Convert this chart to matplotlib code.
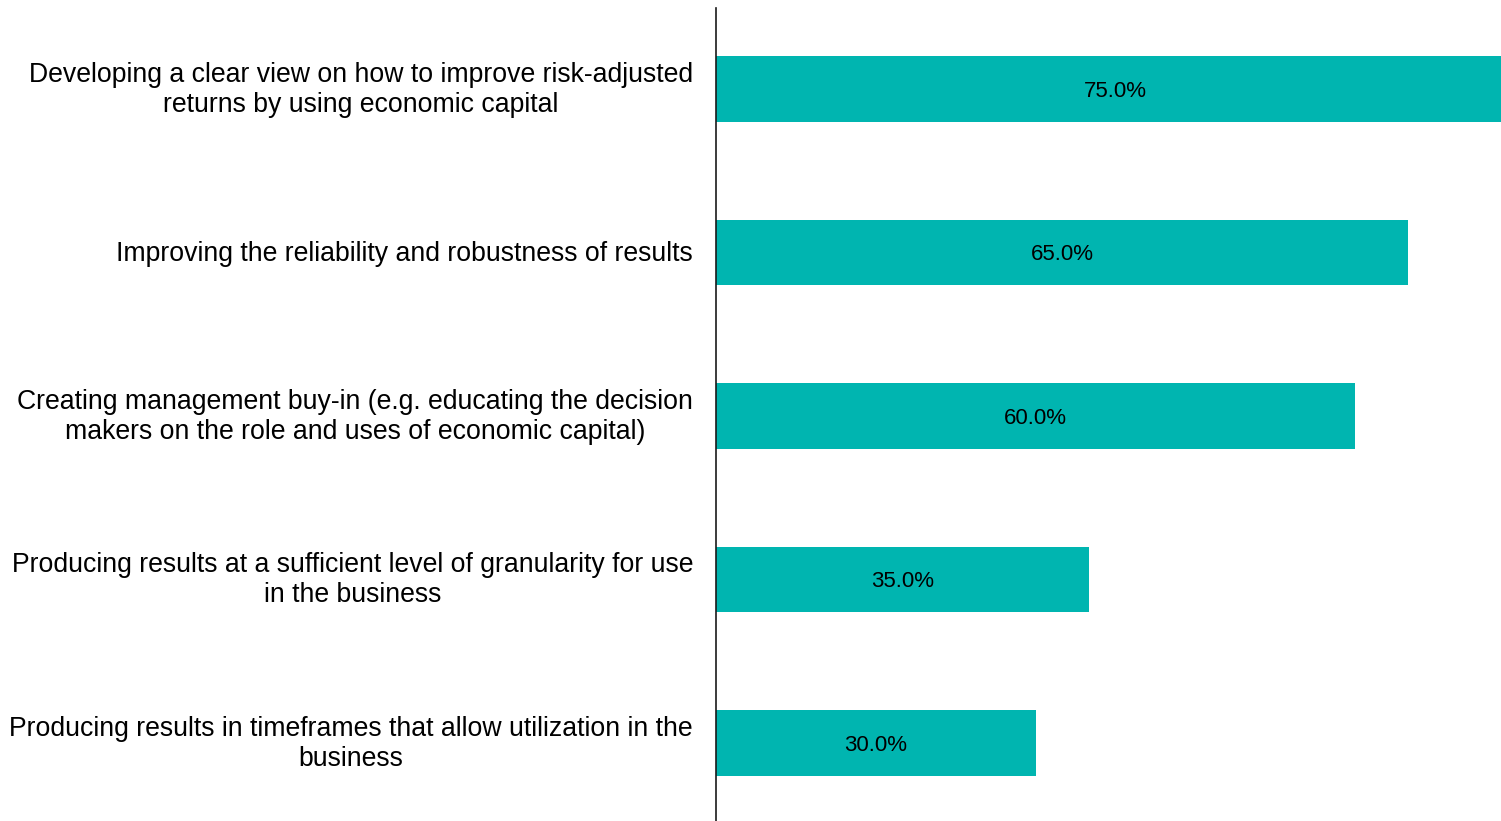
import numpy as np
import matplotlib.pyplot as plt

plt.rcParams['font.family'] = ['Liberation Sans', 'DejaVu Sans']

categories = [
    "Developing a clear view on how to improve risk-adjusted\nreturns by using economic capital",
    "Improving the reliability and robustness of results",
    "Creating management buy-in (e.g. educating the decision\nmakers on the role and uses of economic capital)",
    "Producing results at a sufficient level of granularity for use\nin the business",
    "Producing results in timeframes that allow utilization in the\nbusiness",
]
values = [75.0, 65.0, 60.0, 35.0, 30.0]

bar_color = '#00B5B0'

fig = plt.figure(figsize=(15.01, 8.21), dpi=100)
ax = fig.add_axes([716 / 1501, 0.0, 1 - 716 / 1501, 813 / 821])

y = np.arange(len(values))
ax.barh(y, values, height=0.4, color=bar_color)
ax.set_ylim(len(values) - 0.523, -0.495)
ax.set_xlim(0, 73.7)

for yi, v in zip(y, values):
    ax.text(v / 2, yi, f"{v:.1f}%", ha='center', va='center_baseline',
            fontsize=16, color='black')

# category labels, right aligned just left of the axis line
for yi, lab in zip(y, categories):
    dy = -1 if '\n' in lab else -2
    ax.annotate(lab, xy=(0, yi), xycoords=ax.get_yaxis_transform(),
                xytext=(-23, dy), textcoords='offset pixels',
                ha='right', va='center', multialignment='center',
                fontsize=19.2, linespacing=1.2, annotation_clip=False)

ax.set_yticks([])
ax.set_xticks([])

for s in ['top', 'right', 'bottom']:
    ax.spines[s].set_visible(False)
ax.spines['left'].set_linewidth(1.2)
ax.spines['left'].set_color('#1a1a1a')

fig.savefig('out.png', dpi=100)
